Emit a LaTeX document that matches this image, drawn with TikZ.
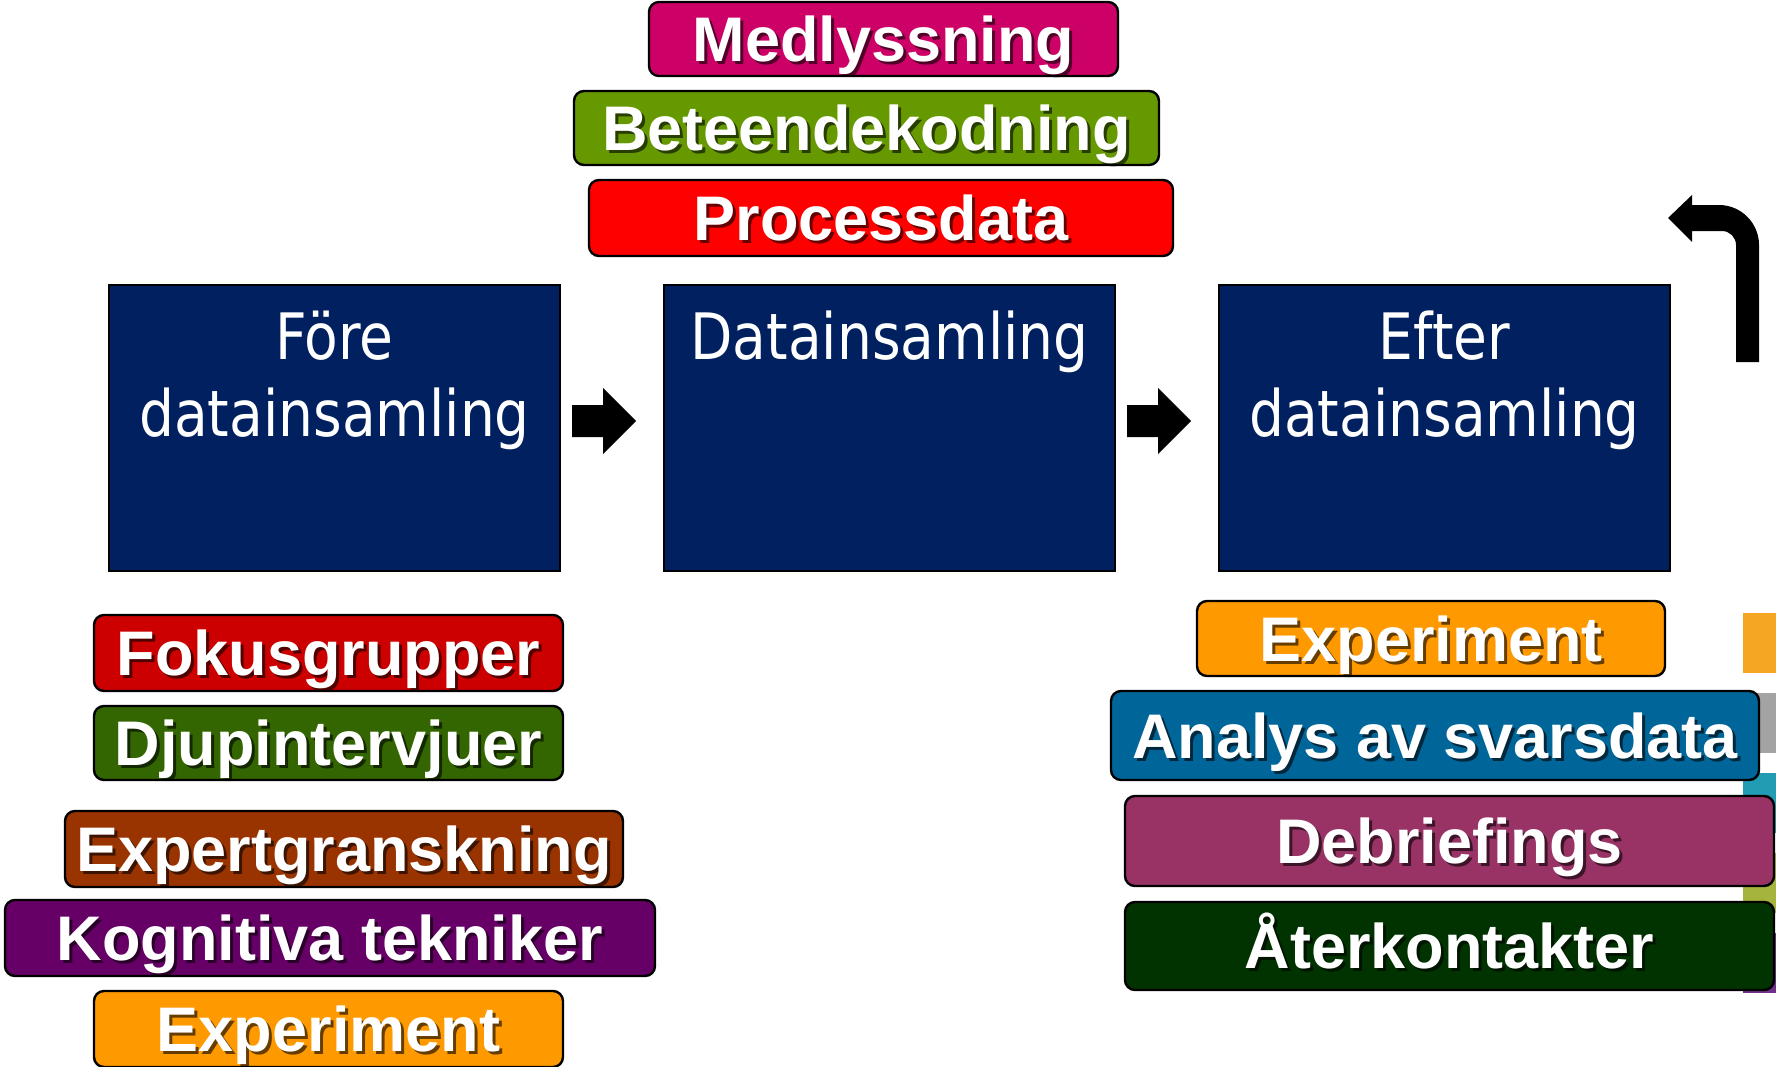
\documentclass[tikz,border=0pt]{standalone}
\usepackage{fontspec}
\setmainfont{Liberation Sans}
\newfontfamily\labfont{Liberation Sans}
\newfontfamily\boxfont[FakeStretch=0.86]{DejaVu Sans}
\definecolor{navy}{RGB}{0,32,96}
\definecolor{cMed}{HTML}{CC0066}
\definecolor{cBet}{HTML}{669900}
\definecolor{cPro}{HTML}{FF0000}
\definecolor{cFok}{HTML}{CC0000}
\definecolor{cDju}{HTML}{336600}
\definecolor{cExg}{HTML}{993300}
\definecolor{cKog}{HTML}{660066}
\definecolor{cExp}{HTML}{FF9900}
\definecolor{cAna}{HTML}{006699}
\definecolor{cDeb}{HTML}{993366}
\definecolor{cAte}{HTML}{003300}
\definecolor{sOra}{HTML}{F5A623}
\definecolor{sGra}{HTML}{A3A3A3}
\definecolor{sTea}{HTML}{219CB2}
\definecolor{sOli}{HTML}{A5B43C}
\definecolor{sPur}{HTML}{70308A}
\tikzset{
  labbox/.style={rectangle, rounded corners=5pt, draw=black, line width=1.2pt, inner sep=0pt, outer sep=0pt},
  labtext/.style={text=white, font=\labfont\bfseries\fontsize{31.5pt}{31.5pt}\selectfont, anchor=base, inner sep=0pt},
  labshadow/.style={labtext, text=black, opacity=0.6},
  darkbox/.style={rectangle, fill=navy, draw=black, line width=0.8pt, inner sep=0pt, outer sep=0pt, minimum width=225.5pt, minimum height=143pt},
  boxtext/.style={text=white, font=\boxfont\fontsize{32pt}{38pt}\selectfont, anchor=base, inner sep=0pt},
  blockarrow/.style={fill=black}
}
\newcommand\labelbox[7]{%
  \node[labbox, fill=#6, minimum width={(#4-#2)*0.5pt}, minimum height={(#5-#3)*0.5pt}] (#1) at ({(#2+#4)/2},{(#3+#5)/2}) {};
  \node[labshadow] at ([xshift=1.5pt,yshift=-12.75pt]#1.center) {#7};
  \node[labtext] (#1-t) at ([yshift=-11.25pt]#1.center) {#7};
}
\newcommand\blockarr[1]{%
  \fill[blockarrow, shift={(#1,0)}] (572,405) -- (603,405) -- (603,388) -- (636,421) -- (603,454) -- (603,437) -- (572,437) -- cycle;
}
\begin{document}
\begin{tikzpicture}[x=0.5pt,y=-0.5pt]
\useasboundingbox (0,0) rectangle (1776,1066);
\clip (0,0) rectangle (1776,1066);
% colour strips at the right edge
\fill[sOra] (1743,613) rectangle (1780,673);
\fill[sGra] (1743,693) rectangle (1780,753);
\fill[sTea] (1743,773) rectangle (1780,833);
\fill[sOli] (1743,853) rectangle (1780,913);
\fill[sPur] (1743,933) rectangle (1780,993);
% main boxes
\node[darkbox] (fore) at (334.5,428) {};
\node[darkbox] (under) at (889.5,428) {};
\node[darkbox] (efter) at (1444.5,428) {};
\node[boxtext] (fore-a) at (334.5,359) {Före};
\node[boxtext] (fore-b) at (334.5,436) {datainsamling};
\node[boxtext] (under-a) at (889.5,359) {Datainsamling};
\node[boxtext] (efter-a) at (1444.5,359) {Efter};
\node[boxtext] (efter-b) at (1444.5,436) {datainsamling};
% block arrows
\blockarr{0}
\blockarr{555}
% bent return arrow
\fill[blockarrow] (1736,362) -- (1736,245) .. controls (1736,237.3) and (1729.7,231) .. (1722,231)
  -- (1692,231) -- (1692,242) -- (1668,218) -- (1692,195) -- (1692,205) -- (1719,205)
  .. controls (1741,205) and (1759,223) .. (1759,245) -- (1759,362) -- cycle;
% top labels
\labelbox{med}{649}{2}{1118}{76}{cMed}{Medlyssning}
\labelbox{bet}{574}{91}{1159}{165}{cBet}{Beteendekodning}
\labelbox{pro}{589}{180}{1173}{256}{cPro}{Processdata}
% left labels
\labelbox{fok}{94}{615}{563}{691}{cFok}{Fokusgrupper}
\labelbox{dju}{94}{706}{563}{780}{cDju}{Djupintervjuer}
\labelbox{exg}{65}{811}{623}{887}{cExg}{Expertgranskning}
\labelbox{kog}{5}{900}{655}{976}{cKog}{Kognitiva tekniker}
\labelbox{expl}{94}{991}{563}{1067}{cExp}{Experiment}
% right labels
\labelbox{expr}{1197}{601}{1665}{676}{cExp}{Experiment}
\labelbox{ana}{1111}{691}{1759}{780}{cAna}{Analys av svarsdata}
\labelbox{deb}{1125}{796}{1774}{886}{cDeb}{Debriefings}
\labelbox{ate}{1125}{902}{1774}{990}{cAte}{Återkontakter}
\end{tikzpicture}
\end{document}
